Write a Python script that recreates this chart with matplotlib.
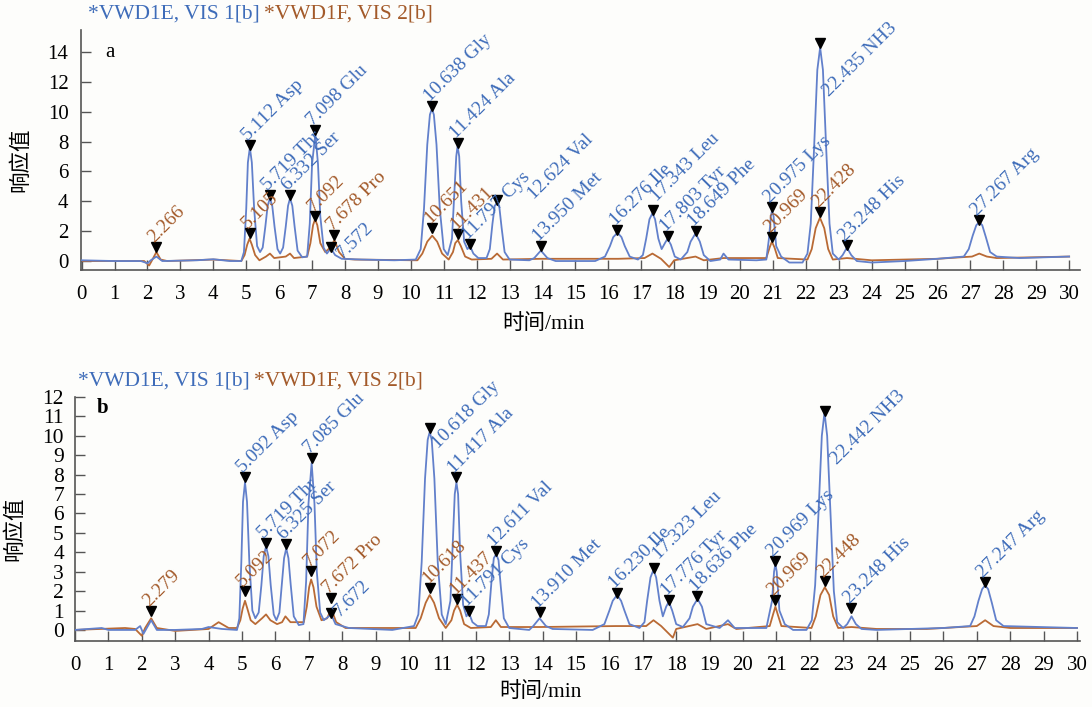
import matplotlib
matplotlib.use("Agg")
from matplotlib import pyplot as plt

plt.rcParams["font.family"] = ["Liberation Serif", "Noto Sans CJK SC"]

# ---------------- data: panel a (time [min], response) ----------------
a_vis1 = [(0, 0.05), (1.0, 0.0), (1.8, 0.0), (2.0, -0.15), (2.1, 0.05), (2.27, 0.3), (2.45, 0.0),
          (3.5, 0.05), (4.0, 0.12), (4.5, 0.0), (4.85, 0.0),
          (4.93, 0.6), (5.0, 3.5), (5.05, 6.6), (5.11, 7.6), (5.17, 6.6), (5.24, 3.5), (5.33, 1.0), (5.42, 0.6),
          (5.5, 0.9), (5.58, 2.3), (5.65, 3.7), (5.72, 4.2), (5.79, 3.7), (5.86, 2.3), (5.95, 0.8), (6.03, 0.5),
          (6.12, 0.9), (6.2, 2.3), (6.27, 3.7), (6.33, 4.2), (6.4, 3.7), (6.47, 2.3), (6.56, 0.7), (6.7, 0.25),
          (6.85, 0.3), (6.93, 2.5), (7.0, 6.5), (7.1, 8.5), (7.18, 6.5), (7.25, 3.0), (7.35, 0.9), (7.45, 0.5),
          (7.57, 0.85), (7.7, 0.4), (7.9, 0.15), (8.5, 0.1), (9.5, 0.05), (10.15, 0.1),
          (10.3, 0.8), (10.4, 3.5), (10.5, 7.8), (10.58, 9.8), (10.64, 10.2), (10.7, 9.8), (10.78, 7.8),
          (10.88, 3.5), (11.0, 0.8), (11.12, 0.4),
          (11.25, 1.5), (11.32, 4.5), (11.38, 7.0), (11.42, 7.7), (11.47, 7.0), (11.53, 4.0), (11.62, 1.3),
          (11.72, 0.8), (11.8, 1.0), (11.9, 0.5), (12.05, 0.2), (12.3, 0.2),
          (12.4, 0.8), (12.48, 2.5), (12.55, 3.7), (12.62, 3.9), (12.69, 3.6), (12.76, 2.2), (12.85, 0.6),
          (13.0, 0.1), (13.6, 0.05),
          (13.75, 0.2), (13.95, 0.7), (14.15, 0.2), (14.4, 0.0), (15.6, 0.0), (15.9, 0.3),
          (16.05, 1.0), (16.15, 1.6), (16.28, 1.9), (16.4, 1.6), (16.5, 1.0), (16.65, 0.3), (16.9, 0.1), (17.05, 0.4),
          (17.15, 1.5), (17.25, 2.8), (17.34, 3.2), (17.42, 2.8), (17.52, 1.5), (17.62, 0.8),
          (17.72, 1.2), (17.8, 1.5), (17.9, 1.1), (18.02, 0.3), (18.2, 0.1), (18.4, 0.6),
          (18.5, 1.3), (18.65, 1.85), (18.78, 1.3), (18.9, 0.4), (19.1, 0.0), (19.4, 0.1), (19.5, 0.5),
          (19.65, 0.1), (20.5, 0.05), (20.8, 0.1),
          (20.88, 1.5), (20.94, 3.0), (20.975, 3.4), (21.02, 3.0), (21.1, 1.0), (21.25, 0.3), (21.5, -0.1), (21.9, -0.1),
          (22.05, 0.5), (22.15, 2.5), (22.25, 7.5), (22.35, 12.8), (22.435, 14.3), (22.52, 12.8), (22.62, 7.5),
          (22.72, 2.5), (22.82, 0.5), (23.0, 0.1),
          (23.12, 0.4), (23.248, 0.9), (23.38, 0.4), (23.55, 0.0), (24.0, -0.1), (25.0, 0.0), (26.0, 0.15), (26.8, 0.3),
          (26.95, 0.8), (27.07, 1.7), (27.18, 2.4), (27.27, 2.6), (27.36, 2.4), (27.47, 1.6), (27.6, 0.6),
          (27.8, 0.3), (28.5, 0.2), (30.0, 0.3)]

a_vis2 = [(0, 0.0), (1.9, 0.0), (2.05, -0.3), (2.15, 0.1), (2.27, 0.6), (2.4, 0.1), (2.6, 0.0), (4.0, 0.1), (4.85, 0.0),
          (4.95, 0.4), (5.03, 1.1), (5.1, 1.5), (5.17, 1.1), (5.27, 0.4), (5.4, 0.05), (5.6, 0.3), (5.72, 0.5),
          (5.85, 0.2), (6.2, 0.3), (6.33, 0.5), (6.45, 0.2), (6.85, 0.3),
          (6.95, 1.2), (7.03, 2.4), (7.09, 2.8), (7.16, 2.4), (7.25, 1.2), (7.4, 0.6), (7.55, 0.9), (7.68, 1.4),
          (7.82, 0.6), (8.0, 0.15), (8.3, 0.1), (10.2, 0.05),
          (10.35, 0.5), (10.5, 1.3), (10.65, 1.7), (10.8, 1.3), (10.95, 0.5), (11.15, 0.1), (11.28, 0.6),
          (11.35, 1.2), (11.43, 1.4), (11.52, 1.0), (11.65, 0.3), (11.85, 0.1),
          (12.45, 0.15), (12.62, 0.5), (12.8, 0.1), (13.95, 0.15), (16.3, 0.15), (17.1, 0.2), (17.34, 0.5),
          (17.6, 0.15), (17.85, -0.4), (18.0, 0.05), (18.65, 0.3), (18.9, 0.05), (19.5, 0.2), (20.8, 0.2),
          (20.9, 0.9), (20.97, 1.3), (21.05, 0.9), (21.15, 0.2), (22.05, 0.1), (22.18, 0.8), (22.3, 2.2),
          (22.43, 2.9), (22.56, 2.2), (22.68, 0.8), (22.82, 0.1), (23.25, 0.2), (24.0, 0.05), (26.0, 0.15),
          (27.05, 0.3), (27.27, 0.5), (27.5, 0.3), (27.8, 0.2), (30.0, 0.3)]

a_vis1_rt = [5.112, 5.719, 6.332, 7.098, 7.572, 10.638, 11.424, 11.797, 12.624,
             13.950, 16.276, 17.343, 17.803, 18.649, 20.975, 22.435, 23.248, 27.267]
a_vis1_h = [7.8, 4.4, 4.4, 8.8, 0.95, 10.4, 7.9, 1.15, 4.1,
            1.0, 2.1, 3.4, 1.7, 2.0, 3.6, 14.6, 1.05, 2.75]
a_vis1_lab = ["5.112 Asp", "5.719 Thr", "6.332 Ser", "7.098 Glu", "7.572",
              "10.638 Gly", "11.424 Ala", "11.797 Cys", "12.624 Val", "13.950 Met",
              "16.276 Ile", "17.343 Leu", "17.803 Tyr", "18.649 Phe", "20.975 Lys",
              "22.435 NH3", "23.248 His", "27.267 Arg"]
a_vis2_rt = [2.266, 5.105, 7.092, 7.678, 10.651, 11.431, 20.969, 22.428]
a_vis2_h = [0.95, 1.9, 3.0, 1.75, 2.2, 1.8, 1.6, 3.3]
a_vis2_lab = ["2.266", "5.105", "7.092", "7.678 Pro", "10.651", "11.431",
              "20.969", "22.428"]

# ---------------- data: panel b ----------------
b_vis1 = [(0, 0.0), (0.8, 0.1), (1.0, 0.0), (1.8, 0.0), (1.95, 0.2), (2.05, -0.2), (2.15, 0.1), (2.28, 0.5),
          (2.45, 0.0), (3.0, 0.0), (3.8, 0.05), (4.0, 0.15), (4.4, 0.05), (4.85, 0.0),
          (4.92, 0.6), (4.98, 3.5), (5.03, 6.6), (5.09, 7.6), (5.15, 6.6), (5.22, 3.5), (5.31, 1.0), (5.4, 0.6),
          (5.5, 0.9), (5.58, 2.3), (5.65, 3.8), (5.72, 4.3), (5.79, 3.8), (5.86, 2.3), (5.95, 0.8), (6.03, 0.5),
          (6.12, 0.9), (6.19, 2.3), (6.26, 3.7), (6.325, 4.2), (6.39, 3.7), (6.46, 2.3), (6.55, 0.7), (6.7, 0.25),
          (6.84, 0.3), (6.92, 2.5), (6.99, 6.5), (7.085, 8.6), (7.17, 6.5), (7.24, 3.0), (7.34, 0.9), (7.45, 0.5),
          (7.67, 0.8), (7.8, 0.3), (8.2, 0.1), (9.5, 0.0), (10.15, 0.2),
          (10.28, 0.8), (10.38, 3.5), (10.48, 7.8), (10.56, 9.8), (10.62, 10.2), (10.68, 9.8), (10.76, 7.8),
          (10.86, 3.5), (10.98, 0.8), (11.1, 0.3),
          (11.24, 1.5), (11.31, 4.5), (11.37, 7.0), (11.42, 7.6), (11.47, 7.0), (11.53, 4.0), (11.62, 1.3),
          (11.72, 0.7), (11.79, 0.9), (11.9, 0.4), (12.05, 0.2), (12.3, 0.2),
          (12.39, 0.8), (12.47, 2.5), (12.54, 3.7), (12.61, 3.9), (12.68, 3.6), (12.75, 2.2), (12.84, 0.6),
          (13.0, 0.1), (13.6, 0.0),
          (13.72, 0.2), (13.91, 0.6), (14.1, 0.2), (14.3, 0.05), (15.5, 0.0), (15.85, 0.3),
          (16.0, 1.0), (16.1, 1.5), (16.23, 1.8), (16.35, 1.5), (16.45, 1.0), (16.6, 0.3), (16.9, 0.1), (17.05, 0.4),
          (17.13, 1.5), (17.23, 2.7), (17.32, 3.1), (17.4, 2.7), (17.5, 1.5), (17.6, 0.7),
          (17.7, 1.2), (17.78, 1.45), (17.88, 1.0), (18.0, 0.3), (18.2, 0.15), (18.4, 0.6),
          (18.5, 1.2), (18.64, 1.6), (18.77, 1.2), (18.9, 0.3), (19.3, 0.1), (19.55, 0.5), (19.75, 0.1), (20.7, 0.1),
          (20.87, 1.5), (20.93, 3.0), (20.97, 3.4), (21.01, 3.0), (21.09, 1.0), (21.25, 0.3), (21.5, 0.0), (21.9, 0.0),
          (22.06, 0.5), (22.16, 2.3), (22.26, 6.0), (22.36, 10.0), (22.44, 11.2), (22.52, 10.0), (22.62, 6.0),
          (22.72, 2.0), (22.82, 0.4), (23.0, 0.1),
          (23.12, 0.3), (23.25, 0.7), (23.38, 0.3), (23.55, 0.05), (24.0, 0.0), (25.0, 0.05), (26.0, 0.1), (26.8, 0.2),
          (26.93, 0.7), (27.05, 1.5), (27.16, 2.1), (27.25, 2.3), (27.34, 2.1), (27.45, 1.4), (27.58, 0.5),
          (27.8, 0.2), (30.0, 0.1)]

b_vis2 = [(0, 0.0), (1.5, 0.1), (1.8, 0.05), (2.0, -0.3), (2.1, 0.1), (2.28, 0.6), (2.45, 0.1), (3.0, -0.05),
          (4.0, 0.05), (4.3, 0.4), (4.6, 0.1), (4.85, 0.1),
          (4.95, 0.5), (5.02, 1.1), (5.09, 1.5), (5.16, 1.1), (5.26, 0.5), (5.4, 0.3), (5.6, 0.6), (5.72, 0.8),
          (5.85, 0.5), (6.05, 0.3), (6.2, 0.4), (6.3, 0.7), (6.45, 0.4), (6.85, 0.4),
          (6.94, 1.2), (7.01, 2.2), (7.07, 2.6), (7.14, 2.2), (7.23, 1.2), (7.38, 0.5), (7.55, 0.6), (7.67, 1.1),
          (7.82, 0.4), (8.1, 0.1), (10.2, 0.1),
          (10.35, 0.6), (10.5, 1.4), (10.62, 1.8), (10.75, 1.4), (10.9, 0.6), (11.1, 0.1), (11.27, 0.5),
          (11.35, 1.0), (11.44, 1.3), (11.53, 1.0), (11.65, 0.3), (11.85, 0.1),
          (12.45, 0.15), (12.6, 0.5), (12.75, 0.15), (13.9, 0.15), (16.2, 0.2), (17.1, 0.2), (17.32, 0.5),
          (17.55, 0.2), (17.9, -0.4), (18.0, 0.05), (18.64, 0.3), (18.9, 0.05), (19.55, 0.3), (19.8, 0.05),
          (20.8, 0.2), (20.9, 0.8), (20.97, 1.2), (21.04, 0.8), (21.15, 0.2), (22.05, 0.1), (22.18, 0.7),
          (22.32, 1.8), (22.45, 2.2), (22.58, 1.8), (22.7, 0.7), (22.85, 0.1),
          (23.25, 0.15), (24.0, 0.05), (25.5, 0.05), (27.0, 0.2), (27.25, 0.5), (27.5, 0.2), (28.0, 0.1), (30.0, 0.1)]

b_vis1_rt = [5.092, 5.719, 6.325, 7.085, 7.672, 10.618, 11.417, 11.791, 12.611,
             13.910, 16.230, 17.323, 17.776, 18.636, 20.969, 22.442, 23.248, 27.247]
b_vis1_h = [7.86, 4.5, 4.45, 8.85, 0.86, 10.4, 7.86, 1.0, 4.07,
            0.9, 1.9, 3.2, 1.55, 1.77, 3.55, 11.3, 1.15, 2.45]
b_vis1_lab = ["5.092 Asp", "5.719 Thr", "6.325 Ser", "7.085 Glu", "7.672",
              "10.618 Gly", "11.417 Ala", "11.791 Cys", "12.611 Val", "13.910 Met",
              "16.230 Ile", "17.323 Leu", "17.776 Tyr", "18.636 Phe", "20.969 Lys",
              "22.442 NH3", "23.248 His", "27.247 Arg"]
b_vis2_rt = [2.279, 5.092, 7.072, 7.672, 10.618, 11.437, 20.969, 22.448]
b_vis2_h = [1.0, 2.0, 3.04, 1.66, 2.15, 1.6, 1.55, 2.5]
b_vis2_lab = ["2.279", "5.092", "7.072", "7.672 Pro", "10.618", "11.437",
              "20.969", "22.448"]

# ---------------- drawing ----------------
W, H = 1092, 707
BLUE_LINE, BROWN_LINE = "#6280cb", "#b96a35"
BLUE_TXT, BROWN_TXT = "#3e6cb9", "#a35a2a"

fig = plt.figure(figsize=(W / 100, H / 100), dpi=100, facecolor="#fdfdfb")


def px_axes(left, top, right, bottom):
    return fig.add_axes([left / W, 1 - bottom / H, (right - left) / W, (bottom - top) / H])


def draw_panel(ax, trace1, trace2, peaks1, peaks2, offsets, xlabelpad):
    ax.set_facecolor("none")
    t1, y1 = zip(*trace1)
    t2, y2 = zip(*trace2)
    ax.plot(t1, y1, color=BLUE_LINE, lw=1.3, zorder=3)
    ax.plot(t2, y2, color=BROWN_LINE, lw=1.3, zorder=2)
    for (rt, h, lab), col in [(p, BLUE_TXT) for p in peaks1] + [(p, BROWN_TXT) for p in peaks2]:
        ax.plot(rt, h, marker="v", color="black", ms=6.5, zorder=5, ls="none")
        dx, dy = offsets.get(lab, (1, 1))
        ax.annotate(lab, (rt, h), xytext=(dx * 0.72, dy * 0.72), textcoords="offset points",
                    rotation=45, rotation_mode="anchor", ha="left", va="bottom",
                    color=col, fontsize=14, zorder=6)
    for s in ["top", "right"]:
        ax.spines[s].set_visible(False)
    for s in ["left", "bottom"]:
        ax.spines[s].set_color("#555555")
        ax.spines[s].set_linewidth(1.2)
    ax.set_xticks(range(0, 31))
    ax.tick_params(direction="in", length=7, width=1, color="#555555",
                   labelsize=15, pad=9)
    ax.tick_params(axis="x", pad=11)
    ax.set_xlabel("时间/min", fontsize=15.5, labelpad=xlabelpad, x=0.463)
    ax.set_ylabel("响应值", fontsize=15.5, labelpad=12, y=0.46)


# panel a
ax_a = px_axes(81, 30, 1080, 270)
draw_panel(ax_a, a_vis1, a_vis2,
           list(zip(a_vis1_rt, a_vis1_h, a_vis1_lab)),
           list(zip(a_vis2_rt, a_vis2_h, a_vis2_lab)),
           {"7.572": (15, -15), "12.624 Val": (40, -3), "17.343 Leu": (7, 5),
            "22.435 NH3": (12, -57)}, 7)
ax_a.set_xlim(-0.02, 30.33)
ax_a.set_ylim(-0.6, 15.47)
ax_a.set_yticks(range(0, 15, 2))
ax_a.text(0.024, 0.905, "a", transform=ax_a.transAxes, fontsize=15, va="center")

# panel b
ax_b = px_axes(75, 397, 1080, 641)
draw_panel(ax_b, b_vis1, b_vis2,
           list(zip(b_vis1_rt, b_vis1_h, b_vis1_lab)),
           list(zip(b_vis2_rt, b_vis2_h, b_vis2_lab)),
           {"7.672": (11, -7), "10.618 Gly": (11, -24), "17.323 Leu": (8, 5),
            "22.442 NH3": (15, -57)}, 5)
ax_b.set_xlim(0, 30.09)
ax_b.set_ylim(-0.57, 12.0)
ax_b.set_yticks(range(0, 13))
ax_b.tick_params(axis="y", labelsize=15.5, pad=8)
ax_b.text(0.022, 0.955, "b", transform=ax_b.transAxes, fontsize=15, va="center",
          fontweight="bold")

# channel headers
for ax, x0, y in [(ax_a, 88, 14), (ax_b, 78, 381)]:
    first = fig.text(x0 / W, 1 - y / H, "*VWD1E, VIS 1[b]", color=BLUE_TXT,
                     fontsize=15.5, va="center")
    ax.annotate("*VWD1F, VIS 2[b]", xy=(1, 0.5), xycoords=first, xytext=(3, 0),
                textcoords="offset points", va="center", color=BROWN_TXT,
                fontsize=15.5, annotation_clip=False)

fig.savefig("out.png", dpi=100, facecolor=fig.get_facecolor())
plt.close(fig)
